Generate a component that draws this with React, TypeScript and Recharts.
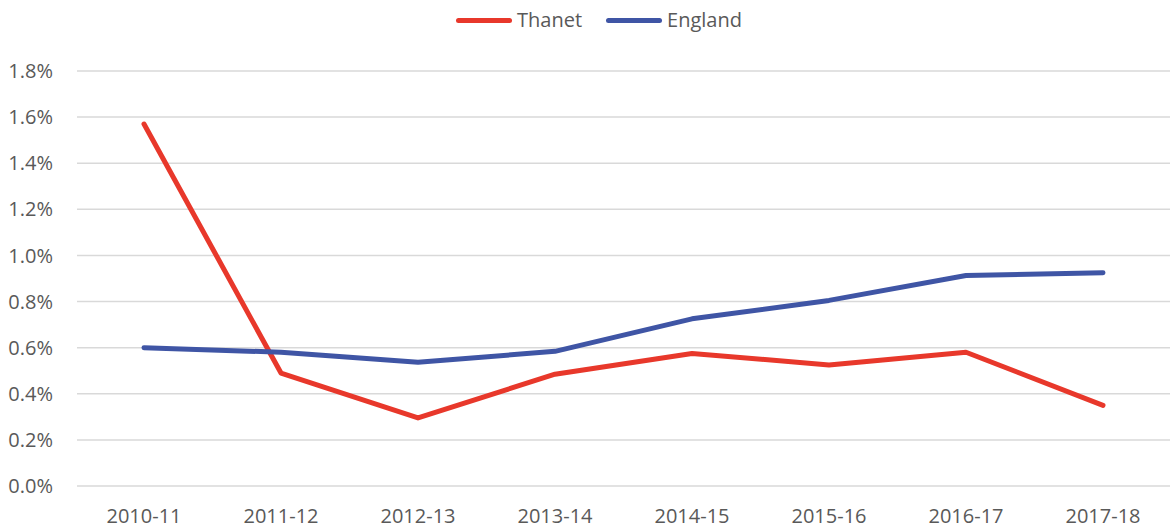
import { LineChart, Line, CartesianGrid, XAxis, YAxis } from "recharts";

const years = ["2010-11", "2011-12", "2012-13", "2013-14", "2014-15", "2015-16", "2016-17", "2017-18"];
const thanet = [1.57, 0.49, 0.295, 0.485, 0.575, 0.525, 0.58, 0.35];
const england = [0.6, 0.58, 0.537, 0.584, 0.725, 0.805, 0.913, 0.925];
const yTicks = [0, 0.2, 0.4, 0.6, 0.8, 1.0, 1.2, 1.4, 1.6, 1.8];

const rows = years.map((y, i) => ({ year: y, thanet: thanet[i], england: england[i] }));

const RED = "#E8382B";
const BLUE = "#3F55A5";
const TEXT = "#595959";
const FONT = "'Open Sans', sans-serif";

function LegendBits() {
  const items = [
    { name: "Thanet", color: RED },
    { name: "England", color: BLUE },
  ];
  return (
    <div
      style={{
        position: "absolute",
        left: 456,
        top: 6,
        display: "flex",
        gap: 24,
        fontFamily: FONT,
        fontSize: 20,
        color: TEXT,
        lineHeight: "28px",
      }}
    >
      {items.map(it => (
        <span key={it.name} style={{ display: "inline-flex", alignItems: "center", gap: 5 }}>
          <span style={{ display: "inline-block", width: 56, height: 5, borderRadius: 3, background: it.color }} />
          {it.name}
        </span>
      ))}
    </div>
  );
}

export default function App() {
  return (
    <div style={{ position: "absolute", left: 0, top: 0, width: 1170, height: 530, background: "#fff" }}>
      <LineChart width={1170} height={530} data={rows} margin={{ top: 71, right: 0, bottom: 0, left: 0 }}>
        <CartesianGrid vertical={false} stroke="#d9d9d9" strokeWidth={1.5} />
        <XAxis
          dataKey="year"
          axisLine={false}
          tickLine={false}
          tickSize={0}
          tickMargin={23}
          height={44}
          padding={{ left: 67, right: 67 }}
          tick={{ fill: TEXT, fontSize: 20, fontFamily: FONT }}
          interval={0}
        />
        <YAxis
          domain={[0, 1.8]}
          ticks={yTicks}
          width={77}
          axisLine={false}
          tickLine={false}
          tickSize={0}
          tickMargin={24}
          tickFormatter={(v: number) => v.toFixed(1) + "%"}
          tick={{ fill: TEXT, fontSize: 20, fontFamily: FONT }}
        />
        <Line dataKey="thanet" name="Thanet" stroke={RED} strokeWidth={5} dot={false} strokeLinecap="round" strokeLinejoin="round" isAnimationActive={false} />
        <Line dataKey="england" name="England" stroke={BLUE} strokeWidth={5} dot={false} strokeLinecap="round" strokeLinejoin="round" isAnimationActive={false} />
      </LineChart>
      <LegendBits />
    </div>
  );
}
